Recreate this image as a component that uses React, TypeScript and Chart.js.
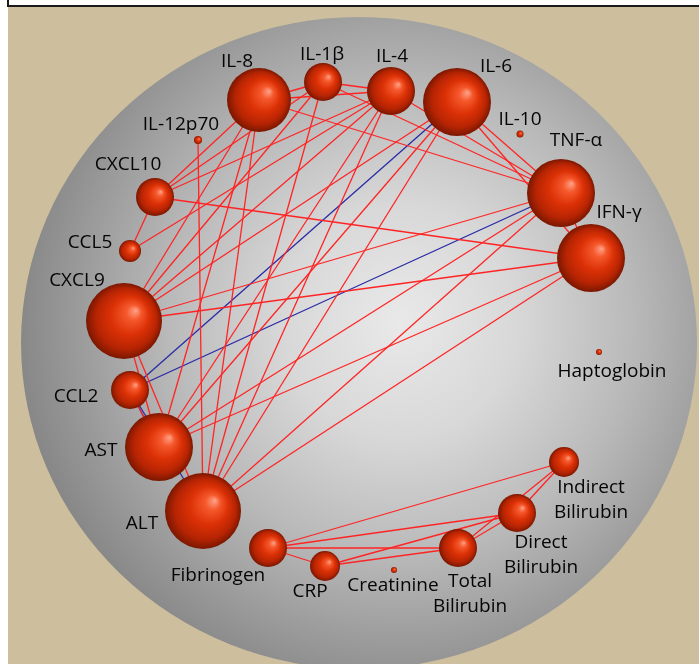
import React, { useRef, useEffect } from "react";
import Chart from "chart.js/auto";

// network nodes (layout coordinates, size = sphere radius)
const nodeNames = [
  "IL-8", "IL-1β", "IL-4", "IL-6", "IL-10", "TNF-α", "IFN-γ", "Haptoglobin",
  "Indirect\nBilirubin", "Direct\nBilirubin", "Total\nBilirubin", "Creatinine",
  "CRP", "Fibrinogen", "ALT", "AST", "CCL2", "CXCL9", "CCL5", "CXCL10", "IL-12p70",
];
const nodeX = [259, 323, 391, 457, 520, 561, 591, 599, 564, 517, 458, 394, 325, 268, 203, 159, 130, 124, 130, 155, 198];
const nodeY = [100, 82, 91, 102, 134, 193, 258, 352, 462, 513, 548, 570, 566, 548, 511, 447, 390, 321, 251, 197, 140];
const nodeSize = [32, 19, 24, 34, 3.5, 34, 34, 3, 15, 19, 19, 3, 15, 19, 38, 34, 19, 38, 11, 19, 4];

// positive (red) and negative (blue) correlations
const positiveLinks: [string, string][] = [
  ["IL-8", "IL-1β"], ["IL-8", "IL-4"], ["IL-8", "TNF-α"], ["IL-8", "CXCL10"],
  ["IL-8", "CXCL9"], ["IL-8", "AST"], ["IL-8", "ALT"],
  ["IL-1β", "IL-4"], ["IL-1β", "TNF-α"], ["IL-1β", "CXCL10"], ["IL-1β", "CXCL9"], ["IL-1β", "ALT"],
  ["IL-4", "TNF-α"], ["IL-4", "CCL5"], ["IL-4", "CXCL10"], ["IL-4", "CXCL9"], ["IL-4", "AST"], ["IL-4", "ALT"],
  ["IL-6", "TNF-α"], ["IL-6", "IFN-γ"], ["IL-6", "CXCL9"], ["IL-6", "AST"], ["IL-6", "ALT"],
  ["TNF-α", "IFN-γ"], ["TNF-α", "CXCL9"], ["TNF-α", "AST"], ["TNF-α", "ALT"],
  ["IFN-γ", "CXCL10"], ["IFN-γ", "CXCL9"], ["IFN-γ", "AST"], ["IFN-γ", "ALT"],
  ["IL-12p70", "ALT"], ["CXCL10", "CCL5"], ["CXCL9", "AST"], ["CXCL9", "ALT"], ["CCL2", "AST"],
  ["Fibrinogen", "CRP"], ["Fibrinogen", "Total\nBilirubin"], ["Fibrinogen", "Direct\nBilirubin"],
  ["Fibrinogen", "Indirect\nBilirubin"], ["CRP", "Total\nBilirubin"], ["CRP", "Direct\nBilirubin"],
  ["Total\nBilirubin", "Direct\nBilirubin"], ["Total\nBilirubin", "Indirect\nBilirubin"],
  ["Direct\nBilirubin", "Indirect\nBilirubin"],
];
const negativeLinks: [string, string][] = [
  ["CCL2", "IL-6"], ["CCL2", "TNF-α"], ["CCL2", "AST"], ["CCL2", "ALT"],
];

// label placement relative to the node centre (pixels)
const labelDx = [-22, -1, 1, 39, 0, 15, 28, 13, 27, 24, 12, -1, -15, -50, -61, -58, -54, -47, -40, -27, -17];
const labelDy = [-39, -28, -35, -36, -15, -53, -46, 19, 25, 29, 33, 15, 25, 27, 12, 3, 6, -41, -9, -33, -16];

const W = 699;
const H = 664;
const sphere = { cx: 359, cy: 343, rx: 338, ry: 326, hx: 400, hy: 322 };

const sphereBackground = {
  id: "sphereBackground",
  beforeDatasetsDraw(chart: Chart) {
    const { ctx, scales } = chart;
    const cx = scales.x.getPixelForValue(sphere.cx);
    const cy = scales.y.getPixelForValue(sphere.cy);
    const rx = scales.x.getPixelForValue(sphere.cx + sphere.rx) - cx;
    const ry = Math.abs(scales.y.getPixelForValue(sphere.cy - sphere.ry) - cy);
    const hx = scales.x.getPixelForValue(sphere.hx);
    const hy = scales.y.getPixelForValue(sphere.hy);
    if (![cx, cy, rx, ry, hx, hy].every(Number.isFinite)) return;
    const g = ctx.createRadialGradient(hx, hy, 0, hx, hy, rx * 1.15);
    g.addColorStop(0, "#e9e9e9");
    g.addColorStop(0.3, "#d8d8d8");
    g.addColorStop(0.6, "#b9b9b9");
    g.addColorStop(0.82, "#9c9c9c");
    g.addColorStop(1, "#858585");
    ctx.save();
    ctx.beginPath();
    ctx.ellipse(cx, cy, rx, ry, 0, 0, Math.PI * 2);
    ctx.fillStyle = g;
    ctx.fill();
    ctx.restore();
  },
};

const nodeLabels = {
  id: "nodeLabels",
  afterDatasetsDraw(chart: Chart) {
    const { ctx } = chart;
    const meta = chart.getDatasetMeta(0);
    ctx.save();
    ctx.font = '19px "Open Sans", sans-serif';
    ctx.fillStyle = "#050505";
    ctx.textAlign = "center";
    ctx.textBaseline = "middle";
    meta.data.forEach((el: any, i: number) => {
      const lines = nodeNames[i].split("\n");
      lines.forEach((line, j) => {
        ctx.fillText(line, el.x + labelDx[i], el.y + labelDy[i] + 1 + j * 25);
      });
    });
    ctx.restore();
  },
};

function linkData(a: string, b: string) {
  const i = nodeNames.indexOf(a);
  const j = nodeNames.indexOf(b);
  return [
    { x: nodeX[i], y: nodeY[i] },
    { x: nodeX[j], y: nodeY[j] },
  ];
}

function sphereFill(c: any) {
  const ch = c.chart;
  const raw = c.raw;
  const fallback = "#d42a04";
  if (!raw || !ch.scales || !ch.scales.x || !ch.scales.y) return fallback;
  const px = ch.scales.x.getPixelForValue(raw.x);
  const py = ch.scales.y.getPixelForValue(raw.y);
  const r = raw.r;
  if (![px, py, r].every(Number.isFinite)) return fallback;
  const g = ch.ctx.createRadialGradient(px + 0.32 * r, py - 0.28 * r, 0, px, py, r);
  g.addColorStop(0, "#ffa48a");
  g.addColorStop(0.2, "#f5582c");
  g.addColorStop(0.5, "#dc3106");
  g.addColorStop(0.8, "#b62403");
  g.addColorStop(1, "#7a1700");
  return g;
}

export default function App() {
  const chartRef = useRef<HTMLCanvasElement | null>(null);
  const chartInstanceRef = useRef<Chart | null>(null);

  useEffect(() => {
    if (!chartRef.current) return;
    const ctx = chartRef.current.getContext("2d");
    if (!ctx) return;
    if (chartInstanceRef.current) chartInstanceRef.current.destroy();

    const linkSets: any[] = [
      ...positiveLinks.map(([a, b]) => ({ color: "#ff2424", a, b })),
      ...negativeLinks.map(([a, b]) => ({ color: "#2a2aa6", a, b })),
    ].map((l) => ({
      type: "line",
      data: linkData(l.a, l.b),
      borderColor: l.color,
      borderWidth: 1.3,
      pointRadius: 0,
      fill: false,
      order: 2,
    }));

    chartInstanceRef.current = new Chart(ctx, {
      type: "bubble",
      data: {
        datasets: [
          {
            type: "bubble",
            data: nodeNames.map((_, i) => ({ x: nodeX[i], y: nodeY[i], r: nodeSize[i] })),
            borderWidth: 0,
            order: 0,
            backgroundColor: sphereFill,
            hoverBackgroundColor: sphereFill,
          },
          ...linkSets,
        ],
      },
      options: {
        animation: false,
        responsive: false,
        events: [],
        layout: { padding: 0, autoPadding: false },
        plugins: { legend: { display: false }, tooltip: { enabled: false } },
        scales: {
          x: { type: "linear", min: 0, max: W, display: false },
          y: { type: "linear", min: 0, max: H, reverse: true, display: false },
        },
      } as any,
      plugins: [sphereBackground, nodeLabels],
    } as any);

    return () => {
      if (chartInstanceRef.current) {
        chartInstanceRef.current.destroy();
        chartInstanceRef.current = null;
      }
    };
  }, []);

  return (
    <div>
      <div
        style={{
          position: "absolute",
          left: 7,
          top: -30,
          width: 692,
          height: 37,
          boxSizing: "border-box",
          background: "#ffffff",
          borderLeft: "2px solid #1a1a1a",
          borderBottom: "2px solid #1a1a1a",
        }}
      />
      <div
        style={{
          position: "absolute",
          left: 8,
          top: 7,
          width: 691,
          height: 657,
          background: "#cdbf9e",
        }}
      />
      <canvas
        ref={chartRef}
        width={W}
        height={H}
        style={{ position: "absolute", left: 0, top: 0, width: W, height: H }}
      />
    </div>
  );
}
